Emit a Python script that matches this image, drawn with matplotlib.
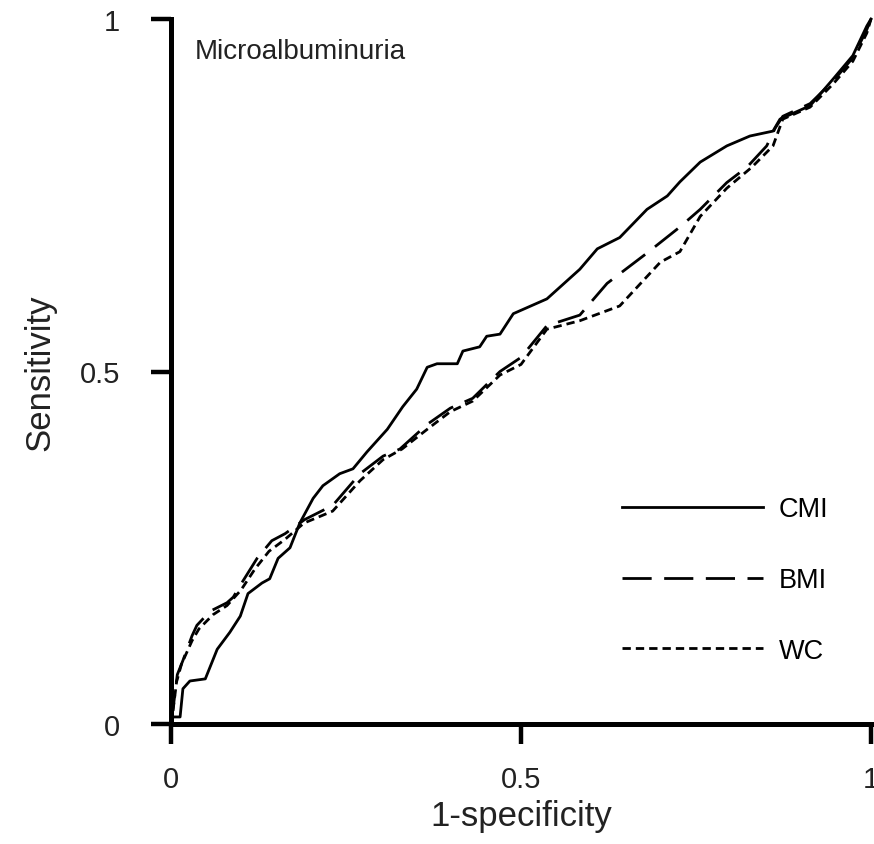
import matplotlib
matplotlib.use('Agg')
import matplotlib.pyplot as plt

plt.rcParams['font.family'] = ['Liberation Sans', 'DejaVu Sans']

# ROC curves (1-specificity, sensitivity)
cmi_x = [0, 0.003, 0.013, 0.017, 0.027, 0.049, 0.066, 0.084, 0.099, 0.11, 0.13, 0.141,
         0.153, 0.17, 0.184, 0.203, 0.217, 0.241, 0.26, 0.28, 0.309, 0.331, 0.351, 0.366,
         0.38, 0.409, 0.417, 0.441, 0.451, 0.47, 0.489, 0.537, 0.584, 0.609, 0.641, 0.68,
         0.709, 0.727, 0.756, 0.794, 0.827, 0.86, 0.87, 0.913, 0.946, 0.974, 0.994, 1.0]
cmi_y = [0, 0.01, 0.01, 0.05, 0.061, 0.064, 0.106, 0.13, 0.153, 0.185, 0.2, 0.206,
         0.235, 0.25, 0.285, 0.32, 0.338, 0.355, 0.362, 0.386, 0.418, 0.45, 0.475, 0.506,
         0.511, 0.511, 0.529, 0.535, 0.55, 0.553, 0.582, 0.603, 0.645, 0.674, 0.69, 0.73,
         0.749, 0.769, 0.797, 0.82, 0.834, 0.841, 0.858, 0.877, 0.915, 0.948, 0.99, 1.0]

bmi_x = [0, 0.004, 0.009, 0.017, 0.03, 0.037, 0.056, 0.08, 0.089, 0.101, 0.123, 0.144,
         0.163, 0.191, 0.231, 0.27, 0.303, 0.327, 0.366, 0.399, 0.431, 0.47, 0.5, 0.537,
         0.584, 0.623, 0.68, 0.727, 0.756, 0.794, 0.823, 0.851, 0.863, 0.874, 0.913,
         0.946, 0.974, 0.994, 1.0]
bmi_y = [0, 0.03, 0.07, 0.09, 0.125, 0.14, 0.16, 0.172, 0.18, 0.2, 0.235, 0.26,
         0.27, 0.29, 0.31, 0.355, 0.38, 0.39, 0.425, 0.448, 0.462, 0.5, 0.52, 0.565,
         0.58, 0.625, 0.668, 0.705, 0.73, 0.768, 0.79, 0.82, 0.845, 0.862, 0.88,
         0.912, 0.945, 0.985, 1.0]

wc_x = [0, 0.003, 0.008, 0.015, 0.03, 0.04, 0.06, 0.08, 0.1, 0.12, 0.14, 0.163,
        0.19, 0.231, 0.27, 0.303, 0.33, 0.366, 0.399, 0.431, 0.47, 0.5, 0.537, 0.584,
        0.641, 0.699, 0.727, 0.756, 0.794, 0.83, 0.86, 0.874, 0.913, 0.946, 0.974,
        0.994, 1.0]
wc_y = [0, 0.02, 0.06, 0.085, 0.118, 0.135, 0.155, 0.168, 0.19, 0.22, 0.245, 0.262,
        0.285, 0.302, 0.345, 0.375, 0.39, 0.418, 0.443, 0.458, 0.495, 0.51, 0.56, 0.572,
        0.593, 0.655, 0.67, 0.72, 0.76, 0.79, 0.82, 0.858, 0.875, 0.908, 0.94,
        0.98, 1.0]

ticks = [0, 0.5, 1]
tick_labels = ['0', '0.5', '1']

fig = plt.figure(figsize=(8.74, 8.45), dpi=100)
ax = fig.add_axes([171 / 874, 120 / 845, 700 / 874, 705 / 845])

ax.plot(cmi_x, cmi_y, color='black', lw=2, label='CMI', clip_on=False)
ax.plot(bmi_x, bmi_y, color='black', lw=2, dashes=(10.5, 4.5), label='BMI', clip_on=False)
ax.plot(wc_x, wc_y, color='black', lw=2, dashes=(3, 1.8), label='WC', clip_on=False)

ax.set_xlim(0, 1)
ax.set_ylim(0, 1)
for side in ['top', 'right']:
    ax.spines[side].set_visible(False)
for side in ['left', 'bottom']:
    ax.spines[side].set_linewidth(3.6)
ax.set_xticks(ticks)
ax.set_xticklabels(tick_labels)
ax.set_yticks(ticks)
ax.set_yticklabels(tick_labels)
ax.tick_params(direction='out', length=14.5, width=3.2, labelsize=21,
               labelcolor='#222222')
ax.tick_params(axis='x', pad=15)
ax.tick_params(axis='y', pad=22)

ax.set_xlabel('1-specificity', fontsize=25, labelpad=4, color='#222222')
ax.set_ylabel('Sensitivity', fontsize=25, labelpad=17, color='#222222')

ax.text(0.034, 0.955, 'Microalbuminuria', transform=ax.transAxes, fontsize=20,
        va='center', ha='left', color='#222222')

ax.legend(loc='center left', bbox_to_anchor=(622 / 874, 264 / 845),
          bbox_transform=fig.transFigure, frameon=False, fontsize=19.5,
          handlelength=5.2, handletextpad=0.6, labelspacing=1.65,
          borderpad=0, borderaxespad=0)

fig.savefig('out.png', dpi=100)
